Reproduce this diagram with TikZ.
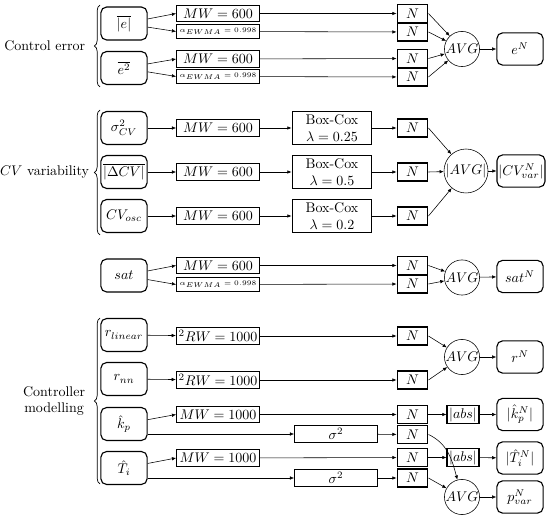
\documentclass[tikz,border=0pt]{standalone}
\usepackage{amsmath,amssymb}
\usetikzlibrary{arrows.meta, positioning, calc, decorations.pathreplacing}

\tikzset{
  inbox/.style={draw, line width=0.8pt, rounded corners=4pt, minimum width=33pt, minimum height=23.5pt, inner sep=1pt},
  outbox/.style={draw, line width=0.8pt, rounded corners=4pt, minimum width=33pt, minimum height=23pt, inner sep=1pt},
  procbox/.style={draw, line width=0.8pt, minimum width=59pt, minimum height=12pt, inner sep=1.5pt},
  ewbox/.style={draw, line width=0.8pt, minimum width=59pt, minimum height=10pt, inner sep=1pt, font=\tiny},
  bcbox/.style={draw, line width=0.8pt, minimum width=57pt, minimum height=23.5pt, inner sep=1pt, align=center},
  nbox/.style={draw, line width=0.8pt, minimum width=22pt, minimum height=12.8pt, inner sep=1pt},
  absbox/.style={draw, line width=0.8pt, minimum height=12.8pt, inner sep=1.5pt},
  avgnode/.style={draw, circle, inner sep=0.3pt},
  arr/.style={-{Latex[length=3pt, width=2.5pt]}, line width=0.4pt},
  grp/.style={decorate, decoration={brace, amplitude=4pt}, line width=0.5pt}
}

\begin{document}
\begin{tikzpicture}[x=0.0251cm, y=-0.0251cm]
\useasboundingbox (0,0) rectangle (550,520);

%% Control error
\node[inbox] (ebar) at (124,23.5) {$\overline{|e|}$};
\node[inbox] (esq) at (124,68) {$\overline{e^2}$};
\node[procbox] (mwe1) at (218,13.5) {$MW = 600$};
\node[ewbox] (ewe1) at (218,31.5) {$\alpha_{EWMA} = 0.998$};
\node[procbox] (mwe2) at (218,59) {$MW = 600$};
\node[ewbox] (ewe2) at (218,76.5) {$\alpha_{EWMA} = 0.998$};
\node[nbox] (ne1) at (412.5,13.5) {$N$};
\node[nbox] (ne2) at (412.5,32) {$N$};
\node[nbox] (ne3) at (412.5,58.5) {$N$};
\node[nbox] (ne4) at (412.5,77) {$N$};
\node[avgnode] (avge) at (462,49) {$AVG$};
\node[outbox] (eN) at (520,49) {$e^N$};

\draw[arr] (ebar) -- (mwe1.west);
\draw[arr] (ebar) -- (ewe1.west);
\draw[arr] (esq) -- (mwe2.west);
\draw[arr] (esq) -- (ewe2.west);
\draw[arr] (mwe1) -- (ne1);
\draw[arr] (ewe1) -- (ne2);
\draw[arr] (mwe2) -- (ne3);
\draw[arr] (ewe2) -- (ne4);
\draw[arr] (ne1.east) -- (avge);
\draw[arr] (ne2.east) -- (avge);
\draw[arr] (ne3.east) -- (avge);
\draw[arr] (ne4.east) -- (avge);
\draw[arr] (avge) -- (eN);

\draw[grp] (100,87) -- (100,5);
\node[anchor=east] (lblerr) at (90,46) {Control error};

%% CV variability
\node[inbox] (cvsig) at (124,128) {$\sigma^2_{CV}$};
\node[inbox] (cvdel) at (124,172) {$\overline{|\Delta CV|}$};
\node[inbox] (cvosc) at (124,216) {$CV_{osc}$};
\node[procbox] (mwc1) at (218,128) {$MW = 600$};
\node[procbox] (mwc2) at (218,172) {$MW = 600$};
\node[procbox] (mwc3) at (218,216) {$MW = 600$};
\node[bcbox] (bc1) at (332,128) {Box-Cox\\$\lambda = 0.25$};
\node[bcbox] (bc2) at (332,172) {Box-Cox\\$\lambda = 0.5$};
\node[bcbox] (bc3) at (332,216) {Box-Cox\\$\lambda = 0.2$};
\node[nbox] (nc1) at (412.5,128) {$N$};
\node[nbox] (nc2) at (412.5,172) {$N$};
\node[nbox] (nc3) at (412.5,216) {$N$};
\node[avgnode] (avgc) at (466,171) {$|AVG|$};
\node[outbox] (cvN) at (521,171) {$|CV^N_{var}|$};

\draw[arr] (cvsig) -- (mwc1);
\draw[arr] (cvdel) -- (mwc2);
\draw[arr] (cvosc) -- (mwc3);
\draw[arr] (mwc1) -- (bc1);
\draw[arr] (mwc2) -- (bc2);
\draw[arr] (mwc3) -- (bc3);
\draw[arr] (bc1) -- (nc1);
\draw[arr] (bc2) -- (nc2);
\draw[arr] (bc3) -- (nc3);
\draw[arr] (nc1.east) -- (avgc);
\draw[arr] (nc2.east) -- (avgc);
\draw[arr] (nc3.east) -- (avgc);
\draw[arr] (avgc) -- (cvN);

\draw[grp] (100,235) -- (100,110);
\node[anchor=east] (lblcv) at (94,172) {$CV$ variability};

%% Saturation
\node[inbox] (sat) at (124,275.5) {$sat$};
\node[procbox] (mws) at (218,265.5) {$MW = 600$};
\node[ewbox] (ews) at (218,284.5) {$\alpha_{EWMA} = 0.998$};
\node[nbox] (ns1) at (412.5,265.5) {$N$};
\node[nbox] (ns2) at (412.5,284) {$N$};
\node[avgnode] (avgs) at (462,277.5) {$AVG$};
\node[outbox] (satN) at (520,276.5) {$sat^N$};

\draw[arr] (sat) -- (mws.west);
\draw[arr] (sat) -- (ews.west);
\draw[arr] (mws) -- (ns1);
\draw[arr] (ews) -- (ns2);
\draw[arr] (ns1.east) -- (avgs);
\draw[arr] (ns2.east) -- (avgs);
\draw[arr] (avgs) -- (satN);

%% Controller modelling
\node[inbox] (rlin) at (124,335) {$r_{linear}$};
\node[inbox] (rnn) at (124,379) {$r_{nn}$};
\node[inbox] (kp) at (124,424) {$\hat{k}_p$};
\node[inbox] (ti) at (124,468) {$\hat{T}_i$};
\node[procbox] (rw1) at (218,336) {$^2RW = 1000$};
\node[procbox] (rw2) at (218,380) {$^2RW = 1000$};
\node[procbox] (mwk) at (218,414.5) {$MW = 1000$};
\node[procbox] (mwt) at (218,458) {$MW = 1000$};
\node[procbox] (sigk) at (336,434) {$\sigma^2$};
\node[procbox] (sigt) at (336,478) {$\sigma^2$};
\node[nbox] (nr1) at (412.5,336) {$N$};
\node[nbox] (nr2) at (412.5,380) {$N$};
\node[nbox] (nk1) at (412.5,414.5) {$N$};
\node[nbox] (nk2) at (412.5,434.5) {$N$};
\node[nbox] (nt1) at (412.5,457.5) {$N$};
\node[nbox] (nt2) at (412.5,478) {$N$};
\node[avgnode] (avgr) at (462,357) {$AVG$};
\node[outbox] (rN) at (520,357) {$r^N$};
\node[absbox] (absk) at (463,414.5) {$|abs|$};
\node[outbox] (kN) at (520,414.5) {$|\hat{k}^N_p|$};
\node[absbox] (abst) at (463,457.5) {$|abs|$};
\node[outbox] (tN) at (520,458) {$|\hat{T}^N_i|$};
\node[avgnode] (avgp) at (462,497) {$AVG$};
\node[outbox] (pN) at (520,497) {$p^N_{var}$};

\draw[arr] (rlin) -- (rw1);
\draw[arr] (rnn) -- (rw2);
\draw[arr] (kp) -- (mwk.west);
\draw[arr] (kp.east |- sigk) -- (sigk);
\draw[arr] (ti) -- (mwt.west);
\draw[arr] (ti.east |- sigt) -- (sigt);
\draw[arr] (rw1) -- (nr1);
\draw[arr] (rw2) -- (nr2);
\draw[arr] (mwk) -- (nk1);
\draw[arr] (sigk) -- (nk2);
\draw[arr] (mwt) -- (nt1);
\draw[arr] (sigt) -- (nt2);
\draw[arr] (nr1.east) -- (avgr);
\draw[arr] (nr2.east) -- (avgr);
\draw[arr] (avgr) -- (rN);
\draw[arr] (nk1) -- (absk);
\draw[arr] (absk) -- (kN);
\draw[arr] (nt1) -- (abst);
\draw[arr] (abst) -- (tN);
\draw[arr] (nk2.east) to[out=-25, in=105] (avgp);
\draw[arr] (nt2.east) -- (avgp);
\draw[arr] (avgp) -- (pN);

\draw[grp] (100,484) -- (100,318);
\node[anchor=east, align=center] (lblctl) at (90,401) {Controller\\modelling};

\end{tikzpicture}
\end{document}
